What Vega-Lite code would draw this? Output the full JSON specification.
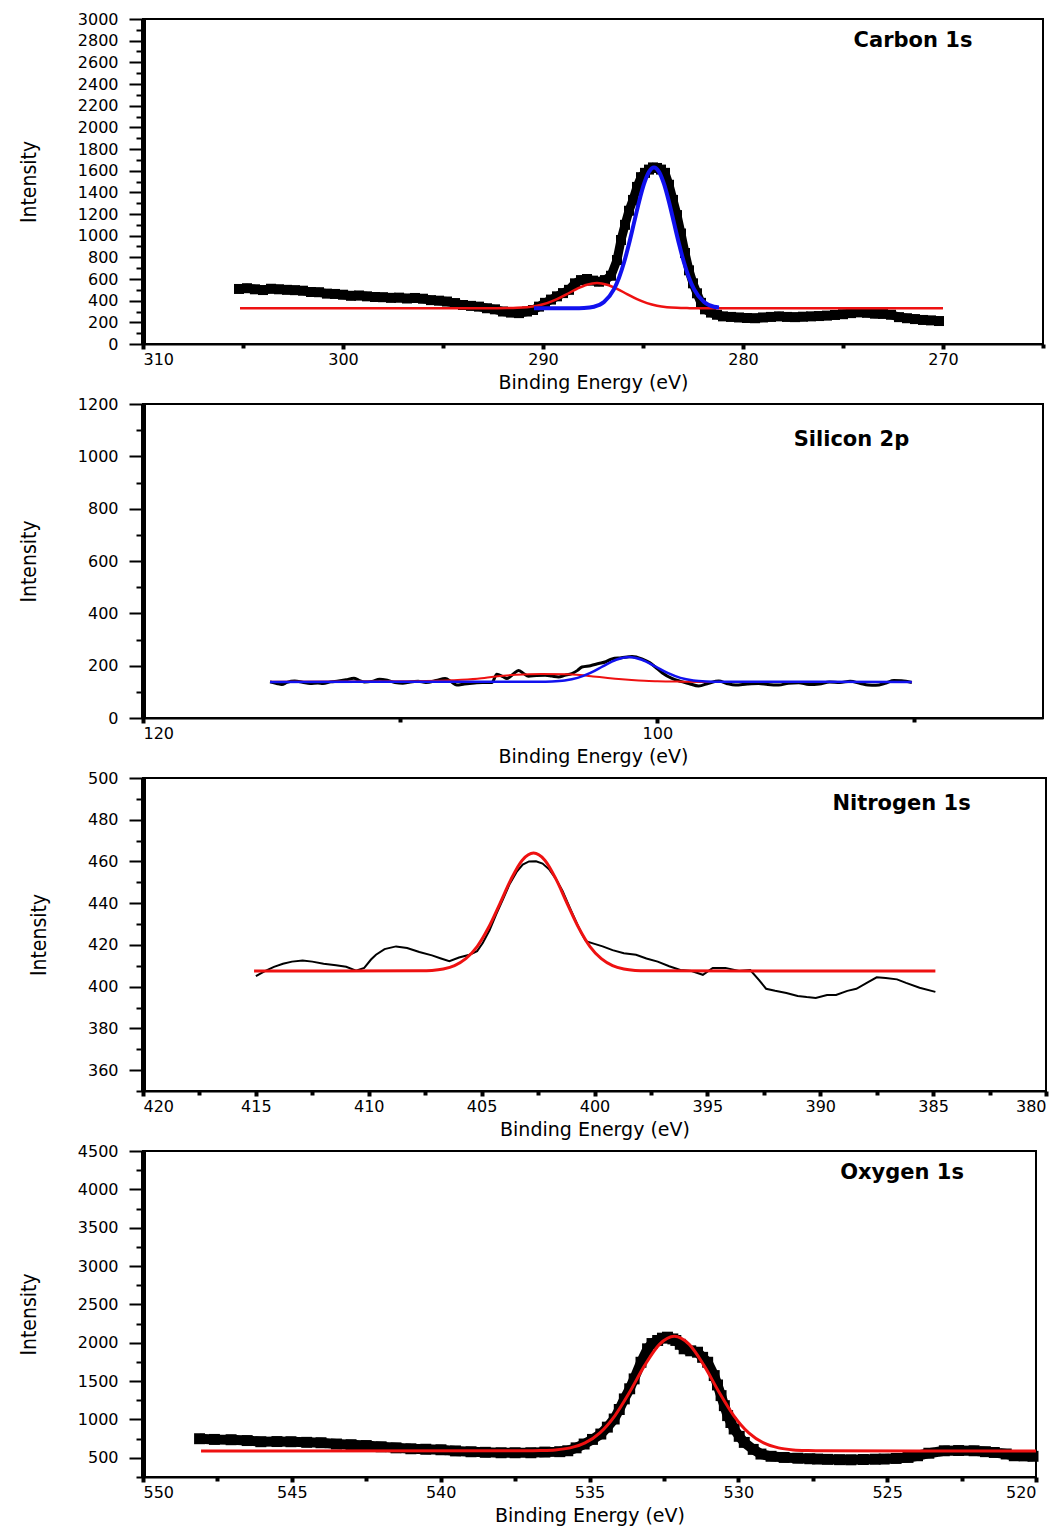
{
  "$schema": "https://vega.github.io/schema/vega-lite/v6.json",
  "background": "white",
  "padding": {"left": 17, "top": 10, "right": 0, "bottom": 0},
  "spacing": 2,
  "config": {
    "view": {"stroke": "black", "strokeWidth": 2},
    "axis": {
      "grid": false,
      "labelOverlap": false,
      "domainColor": "black",
      "tickColor": "black",
      "labelColor": "black",
      "titleColor": "black",
      "labelFont": "DejaVu Sans",
      "labelFontSize": 16,
      "titleFontWeight": "normal"
    },
    "axisY": {
      "domainWidth": 5,
      "tickWidth": 2,
      "labelPadding": 11,
      "titleFont": "DejaVu Sans Condensed, Roboto Condensed, Roboto",
      "titleFontSize": 21,
      "titlePadding": 38
    },
    "axisX": {
      "domainWidth": 2,
      "tickWidth": 4,
      "labelPadding": 2,
      "titleFont": "DejaVu Sans",
      "titleFontSize": 19,
      "titlePadding": 6
    }
  },
  "datasets": {
    "c_pts": [
      {"eV": 305.2, "I": 508}, {"eV": 304.8, "I": 515}, {"eV": 304.4, "I": 505}, {"eV": 304.0, "I": 498},
      {"eV": 303.6, "I": 510}, {"eV": 303.2, "I": 505}, {"eV": 302.8, "I": 500}, {"eV": 302.4, "I": 497},
      {"eV": 302.0, "I": 492}, {"eV": 301.6, "I": 480}, {"eV": 301.2, "I": 478}, {"eV": 300.8, "I": 465},
      {"eV": 300.4, "I": 462}, {"eV": 300.0, "I": 455}, {"eV": 299.6, "I": 445}, {"eV": 299.2, "I": 448},
      {"eV": 298.8, "I": 440}, {"eV": 298.4, "I": 434}, {"eV": 298.0, "I": 432}, {"eV": 297.6, "I": 426},
      {"eV": 297.2, "I": 428}, {"eV": 296.8, "I": 420}, {"eV": 296.4, "I": 425}, {"eV": 296.0, "I": 418},
      {"eV": 295.6, "I": 405}, {"eV": 295.2, "I": 400}, {"eV": 294.8, "I": 392}, {"eV": 294.4, "I": 378},
      {"eV": 294.0, "I": 360}, {"eV": 293.6, "I": 352}, {"eV": 293.2, "I": 345}, {"eV": 292.8, "I": 330},
      {"eV": 292.4, "I": 320}, {"eV": 292.0, "I": 300}, {"eV": 291.6, "I": 290}, {"eV": 291.2, "I": 285},
      {"eV": 290.8, "I": 300}, {"eV": 290.5, "I": 314}, {"eV": 290.2, "I": 345}, {"eV": 289.9, "I": 380},
      {"eV": 289.6, "I": 410}, {"eV": 289.3, "I": 440}, {"eV": 289.0, "I": 470}, {"eV": 288.7, "I": 500},
      {"eV": 288.4, "I": 560}, {"eV": 288.1, "I": 590}, {"eV": 287.8, "I": 600}, {"eV": 287.5, "I": 585},
      {"eV": 287.2, "I": 575}, {"eV": 286.9, "I": 590}, {"eV": 286.6, "I": 630}, {"eV": 286.3, "I": 775},
      {"eV": 286.1, "I": 960}, {"eV": 285.9, "I": 1100}, {"eV": 285.7, "I": 1230}, {"eV": 285.5, "I": 1330},
      {"eV": 285.3, "I": 1450}, {"eV": 285.1, "I": 1540}, {"eV": 284.9, "I": 1580}, {"eV": 284.7, "I": 1610},
      {"eV": 284.5, "I": 1630}, {"eV": 284.3, "I": 1625}, {"eV": 284.1, "I": 1610}, {"eV": 283.9, "I": 1580},
      {"eV": 283.7, "I": 1470}, {"eV": 283.5, "I": 1330}, {"eV": 283.3, "I": 1190}, {"eV": 283.1, "I": 1020},
      {"eV": 282.9, "I": 840}, {"eV": 282.7, "I": 680}, {"eV": 282.5, "I": 560}, {"eV": 282.3, "I": 468},
      {"eV": 282.1, "I": 380}, {"eV": 281.9, "I": 320}, {"eV": 281.6, "I": 290}, {"eV": 281.3, "I": 270},
      {"eV": 281.0, "I": 255}, {"eV": 280.6, "I": 250}, {"eV": 280.2, "I": 245}, {"eV": 279.8, "I": 240},
      {"eV": 279.4, "I": 238}, {"eV": 279.0, "I": 245}, {"eV": 278.6, "I": 250}, {"eV": 278.2, "I": 255},
      {"eV": 277.8, "I": 250}, {"eV": 277.4, "I": 248}, {"eV": 277.0, "I": 252}, {"eV": 276.6, "I": 255},
      {"eV": 276.2, "I": 258}, {"eV": 275.8, "I": 262}, {"eV": 275.4, "I": 268}, {"eV": 275.0, "I": 275},
      {"eV": 274.6, "I": 285}, {"eV": 274.2, "I": 292}, {"eV": 273.8, "I": 288}, {"eV": 273.4, "I": 280},
      {"eV": 273.0, "I": 278}, {"eV": 272.6, "I": 270}, {"eV": 272.2, "I": 248}, {"eV": 271.8, "I": 238},
      {"eV": 271.4, "I": 230}, {"eV": 271.0, "I": 222}, {"eV": 270.6, "I": 218}, {"eV": 270.2, "I": 212}
    ],
    "c_red": [
      {"eV": 305.15, "I": 330}, {"eV": 292.3, "I": 330.4}, {"eV": 291.8, "I": 331.3}, {"eV": 291.3, "I": 333.9},
      {"eV": 290.8, "I": 340.2}, {"eV": 290.3, "I": 353.3}, {"eV": 289.8, "I": 377.1}, {"eV": 289.3, "I": 413.5},
      {"eV": 288.8, "I": 460.6}, {"eV": 288.3, "I": 509.8}, {"eV": 287.8, "I": 547.6}, {"eV": 287.3, "I": 562},
      {"eV": 286.8, "I": 547.6}, {"eV": 286.3, "I": 509.8}, {"eV": 285.8, "I": 460.6}, {"eV": 285.3, "I": 413.5},
      {"eV": 284.8, "I": 377.1}, {"eV": 284.3, "I": 353.3}, {"eV": 283.8, "I": 340.2}, {"eV": 283.3, "I": 333.9},
      {"eV": 282.8, "I": 331.3}, {"eV": 282.3, "I": 330.4}, {"eV": 270.0, "I": 330}
    ],
    "c_blue": [
      {"eV": 290.45, "I": 329}, {"eV": 288.45, "I": 329.5}, {"eV": 287.95, "I": 332}, {"eV": 287.45, "I": 344},
      {"eV": 286.95, "I": 387}, {"eV": 286.45, "I": 506}, {"eV": 286.2, "I": 611}, {"eV": 285.95, "I": 752},
      {"eV": 285.7, "I": 925}, {"eV": 285.45, "I": 1118}, {"eV": 285.2, "I": 1311}, {"eV": 284.95, "I": 1477},
      {"eV": 284.7, "I": 1590}, {"eV": 284.45, "I": 1630}, {"eV": 284.2, "I": 1590}, {"eV": 283.95, "I": 1477},
      {"eV": 283.7, "I": 1311}, {"eV": 283.45, "I": 1118}, {"eV": 283.2, "I": 925}, {"eV": 282.95, "I": 752},
      {"eV": 282.7, "I": 611}, {"eV": 282.45, "I": 506}, {"eV": 281.95, "I": 387}, {"eV": 281.45, "I": 344},
      {"eV": 281.2, "I": 338}
    ],
    "s_pts": [
      {"eV": 115.06, "I": 138}, {"eV": 114.8, "I": 132}, {"eV": 114.6, "I": 128}, {"eV": 114.4, "I": 136},
      {"eV": 114.1, "I": 141}, {"eV": 113.8, "I": 137}, {"eV": 113.5, "I": 132}, {"eV": 113.2, "I": 134},
      {"eV": 113.0, "I": 132}, {"eV": 112.7, "I": 138}, {"eV": 112.4, "I": 141}, {"eV": 112.1, "I": 146},
      {"eV": 111.8, "I": 152}, {"eV": 111.6, "I": 144}, {"eV": 111.4, "I": 138}, {"eV": 111.1, "I": 140},
      {"eV": 110.8, "I": 148}, {"eV": 110.5, "I": 144}, {"eV": 110.2, "I": 136}, {"eV": 109.9, "I": 133},
      {"eV": 109.6, "I": 138}, {"eV": 109.3, "I": 140}, {"eV": 109.0, "I": 136}, {"eV": 108.6, "I": 143},
      {"eV": 108.25, "I": 151}, {"eV": 108.0, "I": 138}, {"eV": 107.8, "I": 126}, {"eV": 107.5, "I": 130},
      {"eV": 107.1, "I": 134}, {"eV": 106.8, "I": 136}, {"eV": 106.43, "I": 136}, {"eV": 106.24, "I": 167},
      {"eV": 106.0, "I": 158}, {"eV": 105.85, "I": 151}, {"eV": 105.6, "I": 168}, {"eV": 105.4, "I": 182},
      {"eV": 105.2, "I": 170}, {"eV": 105.01, "I": 160}, {"eV": 104.7, "I": 162}, {"eV": 104.36, "I": 163},
      {"eV": 104.1, "I": 160}, {"eV": 103.84, "I": 157}, {"eV": 103.6, "I": 163}, {"eV": 103.32, "I": 170},
      {"eV": 103.1, "I": 182}, {"eV": 102.93, "I": 195}, {"eV": 102.6, "I": 200}, {"eV": 102.28, "I": 208},
      {"eV": 102.0, "I": 215}, {"eV": 101.76, "I": 226}, {"eV": 101.4, "I": 230}, {"eV": 100.98, "I": 235},
      {"eV": 100.6, "I": 226}, {"eV": 100.3, "I": 212}, {"eV": 100.08, "I": 195}, {"eV": 99.8, "I": 172},
      {"eV": 99.43, "I": 151}, {"eV": 99.1, "I": 140}, {"eV": 98.78, "I": 132}, {"eV": 98.39, "I": 122},
      {"eV": 98.0, "I": 133}, {"eV": 97.61, "I": 141}, {"eV": 97.3, "I": 132}, {"eV": 96.96, "I": 126},
      {"eV": 96.5, "I": 130}, {"eV": 96.06, "I": 132}, {"eV": 95.7, "I": 128}, {"eV": 95.28, "I": 126},
      {"eV": 94.9, "I": 133}, {"eV": 94.5, "I": 135}, {"eV": 94.1, "I": 128}, {"eV": 93.7, "I": 130},
      {"eV": 93.3, "I": 138}, {"eV": 92.9, "I": 136}, {"eV": 92.5, "I": 140}, {"eV": 92.1, "I": 132},
      {"eV": 91.8, "I": 126}, {"eV": 91.5, "I": 125}, {"eV": 91.1, "I": 134}, {"eV": 90.8, "I": 143},
      {"eV": 90.5, "I": 142}, {"eV": 90.1, "I": 136}
    ],
    "s_red": [
      {"eV": 115.06, "I": 139}, {"eV": 110.0, "I": 140}, {"eV": 109.0, "I": 141}, {"eV": 108.0, "I": 144},
      {"eV": 107.0, "I": 150}, {"eV": 106.2, "I": 160}, {"eV": 105.5, "I": 165}, {"eV": 104.5, "I": 168},
      {"eV": 103.5, "I": 167}, {"eV": 103.0, "I": 164}, {"eV": 102.5, "I": 159}, {"eV": 102.0, "I": 154},
      {"eV": 101.5, "I": 149}, {"eV": 101.0, "I": 145}, {"eV": 100.5, "I": 142}, {"eV": 100.0, "I": 140.5},
      {"eV": 99.0, "I": 139}, {"eV": 98.0, "I": 138}, {"eV": 90.1, "I": 138}
    ],
    "s_blue": [
      {"eV": 115.06, "I": 138}, {"eV": 104.6, "I": 138.4}, {"eV": 104.1, "I": 139.6}, {"eV": 103.6, "I": 143.6},
      {"eV": 103.1, "I": 153.5}, {"eV": 102.6, "I": 172.2}, {"eV": 102.1, "I": 198.3}, {"eV": 101.6, "I": 222.8},
      {"eV": 101.1, "I": 233}, {"eV": 100.6, "I": 222.8}, {"eV": 100.1, "I": 198.3}, {"eV": 99.6, "I": 172.2},
      {"eV": 99.1, "I": 153.5}, {"eV": 98.6, "I": 143.6}, {"eV": 98.1, "I": 139.6}, {"eV": 97.6, "I": 138.4},
      {"eV": 90.1, "I": 138}
    ],
    "n_pts": [
      {"eV": 415.0, "I": 405.0}, {"eV": 414.6, "I": 407.5}, {"eV": 414.2, "I": 409.5}, {"eV": 413.8, "I": 411},
      {"eV": 413.4, "I": 412}, {"eV": 412.93, "I": 412.5}, {"eV": 412.5, "I": 412}, {"eV": 412.0, "I": 411},
      {"eV": 411.45, "I": 410.3}, {"eV": 411.0, "I": 409.5}, {"eV": 410.56, "I": 407.7}, {"eV": 410.2, "I": 409},
      {"eV": 409.9, "I": 413}, {"eV": 409.68, "I": 415.3}, {"eV": 409.3, "I": 418}, {"eV": 408.79, "I": 419.3},
      {"eV": 408.3, "I": 418.5}, {"eV": 407.76, "I": 416.6}, {"eV": 407.2, "I": 415}, {"eV": 406.8, "I": 413.5},
      {"eV": 406.43, "I": 412.2}, {"eV": 406.0, "I": 414}, {"eV": 405.54, "I": 415.3}, {"eV": 405.2, "I": 417},
      {"eV": 404.95, "I": 420.9}, {"eV": 404.65, "I": 427}, {"eV": 404.36, "I": 434.5}, {"eV": 404.05, "I": 442},
      {"eV": 403.77, "I": 448.9}, {"eV": 403.45, "I": 455}, {"eV": 403.18, "I": 458.5}, {"eV": 402.9, "I": 460},
      {"eV": 402.59, "I": 460.1}, {"eV": 402.3, "I": 459}, {"eV": 402.0, "I": 456.1}, {"eV": 401.7, "I": 451.5},
      {"eV": 401.41, "I": 445.7}, {"eV": 401.1, "I": 438}, {"eV": 400.82, "I": 431.3}, {"eV": 400.6, "I": 426},
      {"eV": 400.38, "I": 421.8}, {"eV": 400.0, "I": 420.5}, {"eV": 399.64, "I": 419.3}, {"eV": 399.2, "I": 417.5},
      {"eV": 398.7, "I": 416}, {"eV": 398.16, "I": 415.3}, {"eV": 397.7, "I": 413.5}, {"eV": 397.2, "I": 412},
      {"eV": 396.69, "I": 409.8}, {"eV": 396.2, "I": 408}, {"eV": 395.7, "I": 407.5}, {"eV": 395.2, "I": 405.7},
      {"eV": 394.76, "I": 409}, {"eV": 394.2, "I": 409}, {"eV": 393.6, "I": 407.5}, {"eV": 393.1, "I": 408},
      {"eV": 392.7, "I": 403}, {"eV": 392.4, "I": 399}, {"eV": 392.0, "I": 398}, {"eV": 391.5, "I": 397},
      {"eV": 391.0, "I": 395.5}, {"eV": 390.6, "I": 395}, {"eV": 390.2, "I": 394.6}, {"eV": 389.7, "I": 396},
      {"eV": 389.3, "I": 396}, {"eV": 388.8, "I": 398}, {"eV": 388.4, "I": 399}, {"eV": 387.9, "I": 402},
      {"eV": 387.5, "I": 404.5}, {"eV": 387.1, "I": 404.2}, {"eV": 386.6, "I": 403.5}, {"eV": 386.2, "I": 401.8},
      {"eV": 385.6, "I": 399.5}, {"eV": 384.9, "I": 397.5}
    ],
    "n_red": [
      {"eV": 415.08, "I": 407.5}, {"eV": 407.7, "I": 407.6}, {"eV": 407.2, "I": 407.8}, {"eV": 406.7, "I": 408.5},
      {"eV": 406.2, "I": 410.1}, {"eV": 405.7, "I": 413.4}, {"eV": 405.2, "I": 419.2}, {"eV": 404.7, "I": 428.2},
      {"eV": 404.2, "I": 439.6}, {"eV": 403.7, "I": 451.4}, {"eV": 403.2, "I": 460.6}, {"eV": 402.7, "I": 464},
      {"eV": 402.2, "I": 460.6}, {"eV": 401.7, "I": 451.4}, {"eV": 401.2, "I": 439.6}, {"eV": 400.7, "I": 428.2},
      {"eV": 400.2, "I": 419.2}, {"eV": 399.7, "I": 413.4}, {"eV": 399.2, "I": 410.1}, {"eV": 398.7, "I": 408.5},
      {"eV": 398.2, "I": 407.8}, {"eV": 397.7, "I": 407.6}, {"eV": 384.9, "I": 407.5}
    ],
    "o_pts": [
      {"eV": 548.1, "I": 749}, {"eV": 547.6, "I": 740}, {"eV": 547.04, "I": 736}, {"eV": 546.5, "I": 725},
      {"eV": 546.04, "I": 710}, {"eV": 545.5, "I": 712}, {"eV": 545.03, "I": 710}, {"eV": 544.5, "I": 702},
      {"eV": 544.02, "I": 697}, {"eV": 543.5, "I": 680}, {"eV": 543.01, "I": 671}, {"eV": 542.5, "I": 660},
      {"eV": 542.0, "I": 644}, {"eV": 541.5, "I": 630}, {"eV": 541.0, "I": 618}, {"eV": 540.5, "I": 612},
      {"eV": 539.99, "I": 605}, {"eV": 539.5, "I": 590}, {"eV": 538.98, "I": 579}, {"eV": 538.5, "I": 572},
      {"eV": 537.97, "I": 566}, {"eV": 537.5, "I": 566}, {"eV": 536.97, "I": 566}, {"eV": 536.5, "I": 575},
      {"eV": 536.0, "I": 580}, {"eV": 535.73, "I": 592}, {"eV": 535.45, "I": 630}, {"eV": 535.18, "I": 680},
      {"eV": 534.9, "I": 740}, {"eV": 534.62, "I": 810}, {"eV": 534.4, "I": 900}, {"eV": 534.17, "I": 1006},
      {"eV": 534.0, "I": 1130}, {"eV": 533.83, "I": 1268}, {"eV": 533.65, "I": 1400}, {"eV": 533.5, "I": 1529},
      {"eV": 533.27, "I": 1746}, {"eV": 533.05, "I": 1921}, {"eV": 532.9, "I": 1990}, {"eV": 532.71, "I": 2030},
      {"eV": 532.55, "I": 2060}, {"eV": 532.38, "I": 2073}, {"eV": 532.2, "I": 2050}, {"eV": 532.1, "I": 2030},
      {"eV": 531.95, "I": 1980}, {"eV": 531.82, "I": 1921}, {"eV": 531.6, "I": 1895}, {"eV": 531.37, "I": 1877},
      {"eV": 531.2, "I": 1810}, {"eV": 531.03, "I": 1746}, {"eV": 530.81, "I": 1572}, {"eV": 530.7, "I": 1450},
      {"eV": 530.58, "I": 1311}, {"eV": 530.47, "I": 1180}, {"eV": 530.36, "I": 1050}, {"eV": 530.25, "I": 960},
      {"eV": 530.14, "I": 876}, {"eV": 529.97, "I": 780}, {"eV": 529.8, "I": 701}, {"eV": 529.5, "I": 610},
      {"eV": 529.24, "I": 549}, {"eV": 528.9, "I": 520}, {"eV": 528.46, "I": 505}, {"eV": 528.0, "I": 495},
      {"eV": 527.6, "I": 488}, {"eV": 527.34, "I": 484}, {"eV": 527.0, "I": 480}, {"eV": 526.6, "I": 476},
      {"eV": 526.22, "I": 474}, {"eV": 525.8, "I": 478}, {"eV": 525.4, "I": 482}, {"eV": 525.1, "I": 484},
      {"eV": 524.7, "I": 492}, {"eV": 524.3, "I": 505}, {"eV": 523.98, "I": 527}, {"eV": 523.6, "I": 560},
      {"eV": 523.08, "I": 592}, {"eV": 522.6, "I": 595}, {"eV": 522.08, "I": 592}, {"eV": 521.7, "I": 580},
      {"eV": 521.4, "I": 570}, {"eV": 521.0, "I": 550}, {"eV": 520.73, "I": 527}, {"eV": 520.4, "I": 525},
      {"eV": 520.1, "I": 520}
    ],
    "o_red": [
      {"eV": 548.05, "I": 590}, {"eV": 537.15, "I": 591}, {"eV": 536.65, "I": 594}, {"eV": 536.15, "I": 603},
      {"eV": 535.65, "I": 630}, {"eV": 535.15, "I": 694}, {"eV": 534.65, "I": 825}, {"eV": 534.15, "I": 1048},
      {"eV": 533.65, "I": 1358}, {"eV": 533.15, "I": 1702}, {"eV": 532.65, "I": 1979}, {"eV": 532.15, "I": 2085},
      {"eV": 531.65, "I": 1979}, {"eV": 531.15, "I": 1702}, {"eV": 530.65, "I": 1358}, {"eV": 530.15, "I": 1048},
      {"eV": 529.65, "I": 825}, {"eV": 529.15, "I": 694}, {"eV": 528.65, "I": 630}, {"eV": 528.15, "I": 603},
      {"eV": 527.65, "I": 594}, {"eV": 527.15, "I": 591}, {"eV": 520.0, "I": 590}
    ]
  },
  "vconcat": [
    {
      "width": 900,
      "height": 325,
      "layer": [
        {
          "encoding": {
            "x": {"field": "eV", "type": "quantitative", "title": "Binding Energy (eV)",
              "scale": {"domain": [265, 310], "reverse": true, "nice": false, "zero": false},
              "axis": {"format": "d", "labelOverlap": false,
                "values": [265, 270, 275, 280, 285, 290, 295, 300, 305, 310],
                "labelExpr": "datum.value % 10 === 0 ? datum.label : ''",
                "tickSize": {"condition": {"test": "datum.value % 10 === 0", "value": 5}, "value": 4}}},
            "y": {"field": "I", "type": "quantitative", "title": "Intensity",
              "scale": {"domain": [0, 3000], "nice": false, "zero": false},
              "axis": {"format": "d", "labelOverlap": false,
                "values": [0, 100, 200, 300, 400, 500, 600, 700, 800, 900, 1000, 1100, 1200, 1300, 1400, 1500, 1600, 1700, 1800, 1900, 2000, 2100, 2200, 2300, 2400, 2500, 2600, 2700, 2800, 2900, 3000],
                "labelExpr": "datum.value % 200 === 0 ? datum.label : ''",
                "tickSize": {"condition": {"test": "datum.value % 200 === 0", "value": 14}, "value": 7}}}
          },
          "layer": [
            {"data": {"name": "c_pts"}, "mark": {"type": "line", "color": "black", "strokeWidth": 9}},
            {"data": {"name": "c_pts"}, "mark": {"type": "square", "color": "black", "filled": true, "opacity": 1, "size": 100}},
            {"data": {"name": "c_red"}, "mark": {"type": "line", "color": "#ee1111", "strokeWidth": 2.5, "interpolate": "monotone"}},
            {"data": {"name": "c_blue"}, "mark": {"type": "line", "color": "#1111ee", "strokeWidth": 4, "interpolate": "monotone"}}
          ]
        },
        {"data": {"values": [{"label": "Carbon 1s"}]},
          "mark": {"type": "text", "font": "DejaVu Sans", "fontWeight": "bold", "fontSize": 21, "align": "center", "baseline": "middle", "color": "black"},
          "encoding": {
            "x": {"datum": 271.5, "type": "quantitative", "title": "Binding Energy (eV)",
              "axis": {"format": "d", "labelOverlap": false,
                "values": [265, 270, 275, 280, 285, 290, 295, 300, 305, 310],
                "labelExpr": "datum.value % 10 === 0 ? datum.label : ''",
                "tickSize": {"condition": {"test": "datum.value % 10 === 0", "value": 5}, "value": 4}}},
            "y": {"datum": 2800, "type": "quantitative", "title": "Intensity",
              "axis": {"format": "d", "labelOverlap": false,
                "values": [0, 100, 200, 300, 400, 500, 600, 700, 800, 900, 1000, 1100, 1200, 1300, 1400, 1500, 1600, 1700, 1800, 1900, 2000, 2100, 2200, 2300, 2400, 2500, 2600, 2700, 2800, 2900, 3000],
                "labelExpr": "datum.value % 200 === 0 ? datum.label : ''",
                "tickSize": {"condition": {"test": "datum.value % 200 === 0", "value": 14}, "value": 7}}},
            "text": {"field": "label", "type": "nominal"}}}
      ]
    },
    {
      "width": 900,
      "height": 314,
      "layer": [
        {
          "encoding": {
            "x": {"field": "eV", "type": "quantitative", "title": "Binding Energy (eV)",
              "scale": {"domain": [85, 120], "reverse": true, "nice": false, "zero": false},
              "axis": {"format": "d", "labelOverlap": false,
                "values": [90, 100, 110, 120],
                "labelExpr": "datum.value % 20 === 0 ? datum.label : ''",
                "tickSize": {"condition": {"test": "datum.value % 20 === 0", "value": 5}, "value": 4}}},
            "y": {"field": "I", "type": "quantitative", "title": "Intensity",
              "scale": {"domain": [0, 1200], "nice": false, "zero": false},
              "axis": {"format": "d", "labelOverlap": false,
                "values": [0, 100, 200, 300, 400, 500, 600, 700, 800, 900, 1000, 1100, 1200],
                "labelExpr": "datum.value % 200 === 0 ? datum.label : ''",
                "tickSize": {"condition": {"test": "datum.value % 200 === 0", "value": 14}, "value": 7}}}
          },
          "layer": [
            {"data": {"name": "s_pts"}, "mark": {"type": "line", "color": "black", "strokeWidth": 3, "interpolate": "monotone"}},
            {"data": {"name": "s_red"}, "mark": {"type": "line", "color": "#ee1111", "strokeWidth": 2, "interpolate": "monotone"}},
            {"data": {"name": "s_blue"}, "mark": {"type": "line", "color": "#1111ee", "strokeWidth": 2.5, "interpolate": "monotone"}}
          ]
        },
        {"data": {"values": [{"label": "Silicon 2p"}]},
          "mark": {"type": "text", "font": "DejaVu Sans", "fontWeight": "bold", "fontSize": 21, "align": "center", "baseline": "middle", "color": "black"},
          "encoding": {
            "x": {"datum": 92.45, "type": "quantitative", "title": "Binding Energy (eV)",
              "axis": {"format": "d", "labelOverlap": false,
                "values": [90, 100, 110, 120],
                "labelExpr": "datum.value % 20 === 0 ? datum.label : ''",
                "tickSize": {"condition": {"test": "datum.value % 20 === 0", "value": 5}, "value": 4}}},
            "y": {"datum": 1064, "type": "quantitative", "title": "Intensity",
              "axis": {"format": "d", "labelOverlap": false,
                "values": [0, 100, 200, 300, 400, 500, 600, 700, 800, 900, 1000, 1100, 1200],
                "labelExpr": "datum.value % 200 === 0 ? datum.label : ''",
                "tickSize": {"condition": {"test": "datum.value % 200 === 0", "value": 14}, "value": 7}}},
            "text": {"field": "label", "type": "nominal"}}}
      ]
    },
    {
      "width": 903,
      "height": 313,
      "layer": [
        {
          "encoding": {
            "x": {"field": "eV", "type": "quantitative", "title": "Binding Energy (eV)",
              "scale": {"domain": [380, 420], "reverse": true, "nice": false, "zero": false},
              "axis": {"format": "d", "labelOverlap": false,
                "values": [380, 382.5, 385, 387.5, 390, 392.5, 395, 397.5, 400, 402.5, 405, 407.5, 410, 412.5, 415, 417.5, 420],
                "labelExpr": "datum.value % 5 === 0 ? datum.label : ''",
                "tickSize": {"condition": {"test": "datum.value % 5 === 0", "value": 5}, "value": 4}}},
            "y": {"field": "I", "type": "quantitative", "title": "Intensity",
              "scale": {"domain": [350, 500], "nice": false, "zero": false},
              "axis": {"format": "d", "labelOverlap": false,
                "values": [350, 360, 370, 380, 390, 400, 410, 420, 430, 440, 450, 460, 470, 480, 490, 500],
                "labelExpr": "datum.value % 20 === 0 ? datum.label : ''",
                "tickSize": {"condition": {"test": "datum.value % 20 === 0", "value": 14}, "value": 7}}}
          },
          "layer": [
            {"data": {"name": "n_pts"}, "mark": {"type": "line", "color": "black", "strokeWidth": 2}},
            {"data": {"name": "n_red"}, "mark": {"type": "line", "color": "#ee1111", "strokeWidth": 3, "interpolate": "monotone"}}
          ]
        },
        {"data": {"values": [{"label": "Nitrogen 1s"}]},
          "mark": {"type": "text", "font": "DejaVu Sans", "fontWeight": "bold", "fontSize": 21, "align": "center", "baseline": "middle", "color": "black"},
          "encoding": {
            "x": {"datum": 386.4, "type": "quantitative", "title": "Binding Energy (eV)",
              "axis": {"format": "d", "labelOverlap": false,
                "values": [380, 382.5, 385, 387.5, 390, 392.5, 395, 397.5, 400, 402.5, 405, 407.5, 410, 412.5, 415, 417.5, 420],
                "labelExpr": "datum.value % 5 === 0 ? datum.label : ''",
                "tickSize": {"condition": {"test": "datum.value % 5 === 0", "value": 5}, "value": 4}}},
            "y": {"datum": 487.5, "type": "quantitative", "title": "Intensity",
              "axis": {"format": "d", "labelOverlap": false,
                "values": [350, 360, 370, 380, 390, 400, 410, 420, 430, 440, 450, 460, 470, 480, 490, 500],
                "labelExpr": "datum.value % 20 === 0 ? datum.label : ''",
                "tickSize": {"condition": {"test": "datum.value % 20 === 0", "value": 14}, "value": 7}}},
            "text": {"field": "label", "type": "nominal"}}}
      ]
    },
    {
      "width": 893,
      "height": 326,
      "layer": [
        {
          "encoding": {
            "x": {"field": "eV", "type": "quantitative", "title": "Binding Energy (eV)",
              "scale": {"domain": [520, 550], "reverse": true, "nice": false, "zero": false},
              "axis": {"format": "d", "labelOverlap": false,
                "values": [520, 522.5, 525, 527.5, 530, 532.5, 535, 537.5, 540, 542.5, 545, 547.5, 550],
                "labelExpr": "datum.value % 5 === 0 ? datum.label : ''",
                "tickSize": {"condition": {"test": "datum.value % 5 === 0", "value": 5}, "value": 4}}},
            "y": {"field": "I", "type": "quantitative", "title": "Intensity",
              "scale": {"domain": [250, 4500], "nice": false, "zero": false},
              "axis": {"format": "d", "labelOverlap": false,
                "values": [250, 500, 750, 1000, 1250, 1500, 1750, 2000, 2250, 2500, 2750, 3000, 3250, 3500, 3750, 4000, 4250, 4500],
                "labelExpr": "datum.value % 500 === 0 ? datum.label : ''",
                "tickSize": {"condition": {"test": "datum.value % 500 === 0", "value": 14}, "value": 7}}}
          },
          "layer": [
            {"data": {"name": "o_pts"}, "mark": {"type": "line", "color": "black", "strokeWidth": 10}},
            {"data": {"name": "o_pts"}, "mark": {"type": "square", "color": "black", "filled": true, "opacity": 1, "size": 120}},
            {"data": {"name": "o_red"}, "mark": {"type": "line", "color": "#ee1111", "strokeWidth": 3, "interpolate": "monotone"}}
          ]
        },
        {"data": {"values": [{"label": "Oxygen 1s"}]},
          "mark": {"type": "text", "font": "DejaVu Sans", "fontWeight": "bold", "fontSize": 21, "align": "center", "baseline": "middle", "color": "black"},
          "encoding": {
            "x": {"datum": 524.5, "type": "quantitative", "title": "Binding Energy (eV)",
              "axis": {"format": "d", "labelOverlap": false,
                "values": [520, 522.5, 525, 527.5, 530, 532.5, 535, 537.5, 540, 542.5, 545, 547.5, 550],
                "labelExpr": "datum.value % 5 === 0 ? datum.label : ''",
                "tickSize": {"condition": {"test": "datum.value % 5 === 0", "value": 5}, "value": 4}}},
            "y": {"datum": 4213, "type": "quantitative", "title": "Intensity",
              "axis": {"format": "d", "labelOverlap": false,
                "values": [250, 500, 750, 1000, 1250, 1500, 1750, 2000, 2250, 2500, 2750, 3000, 3250, 3500, 3750, 4000, 4250, 4500],
                "labelExpr": "datum.value % 500 === 0 ? datum.label : ''",
                "tickSize": {"condition": {"test": "datum.value % 500 === 0", "value": 14}, "value": 7}}},
            "text": {"field": "label", "type": "nominal"}}}
      ]
    }
  ]
}
